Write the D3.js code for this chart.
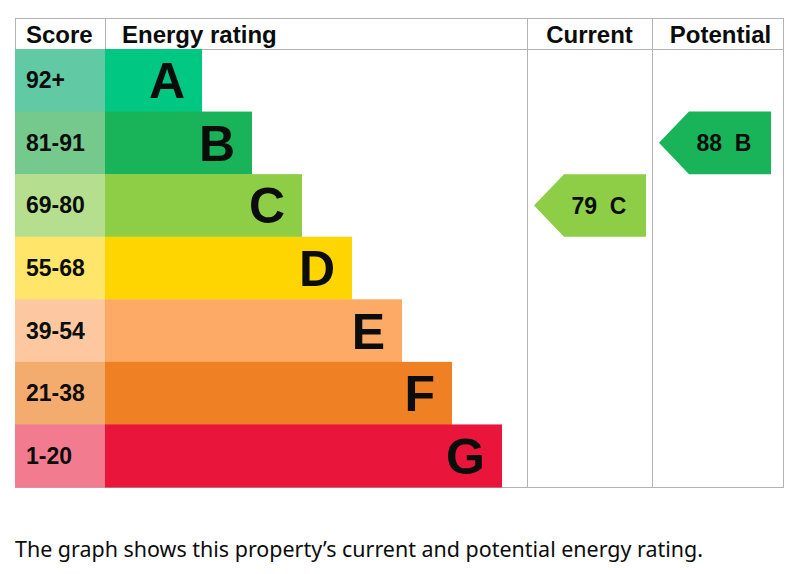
<!DOCTYPE html>
<html>
<head>
<meta charset="utf-8">
<script src="https://cdn.jsdelivr.net/npm/d3@7"></script>
<style>
  body { margin: 0; background: #fff; }
  svg { display: block; }
  text { fill: #0b0c0c; }
</style>
</head>
<body>
<div id="chart"></div>
<script>
// rating bands, top to bottom
var bands = ["A", "B", "C", "D", "E", "F", "G"];
var scoreLabels = ["92+", "81-91", "69-80", "55-68", "39-54", "21-38", "1-20"];
var bandMin = [92, 81, 69, 55, 39, 21, 1];
var bandColors = ["#00c781", "#19b459", "#8dce46", "#ffd500", "#fcaa65", "#ef8023", "#e9153b"];
var scoreColors = ["#62c9a5", "#75c98c", "#b5df8e", "#ffe56a", "#fdc8a0", "#f4ab6e", "#f27b90"];
var columnNames = ["Current", "Potential"];
var ratings = [79, 88];
var caption = "The graph shows this property\u2019s current and potential energy rating.";

var width = 804, height = 574;
var tLeft = 15, tRight = 783, tTop = 18, headBottom = 49, tBottom = 487;
var scoreRight = 105;
var colEdges = [527, 652, 783];
var lineColor = "#b1b4b6";

var svg = d3.select("#chart")
    .append("svg")
    .attr("width", width)
    .attr("height", height);

var y = d3.scaleBand()
    .domain(bands)
    .range([headBottom, tBottom]);

// bar end position grows by 50px per band
var barEnd = d3.scaleLinear()
    .domain([0, bands.length - 1])
    .range([202, 502]);

function bandOf(score) {
    for (var i = 0; i < bandMin.length; i++) {
        if (score >= bandMin[i]) return i;
    }
    return bandMin.length - 1;
}

//table lines
var grid = svg.append("g")
    .attr("stroke", lineColor)
    .attr("stroke-width", 1)
    .attr("shape-rendering", "crispEdges");

grid.append("rect")
    .attr("x", tLeft + 0.5)
    .attr("y", tTop + 0.5)
    .attr("width", tRight - tLeft)
    .attr("height", tBottom - tTop)
    .attr("fill", "none");

grid.append("line")
    .attr("x1", tLeft).attr("x2", tRight)
    .attr("y1", headBottom + 0.5).attr("y2", headBottom + 0.5);

grid.append("line")
    .attr("x1", scoreRight + 0.5).attr("x2", scoreRight + 0.5)
    .attr("y1", tTop).attr("y2", headBottom);

grid.selectAll(".col_line")
    .data(colEdges.slice(0, 2))
    .enter()
    .append("line")
    .attr("class", "col_line")
    .attr("x1", d => d + 0.5).attr("x2", d => d + 0.5)
    .attr("y1", tTop).attr("y2", tBottom);

//header
var head = svg.append("g")
    .style("font-family", "'Liberation Sans', Arial, sans-serif")
    .style("font-weight", "bold")
    .style("font-size", "24px");

head.append("text").attr("x", 26).attr("y", 43).text("Score");
head.append("text").attr("x", 122).attr("y", 43).text("Energy rating");

head.selectAll(".col_head")
    .data(columnNames)
    .enter()
    .append("text")
    .attr("class", "col_head")
    .attr("text-anchor", "middle")
    .attr("x", (d, i) => (colEdges[i] + colEdges[i + 1]) / 2 + i * 3)
    .attr("y", 43)
    .text(d => d);

//rows
var rows = svg.append("g")
    .selectAll("g")
    .data(bands)
    .enter()
    .append("g");

rows.append("rect")
    .attr("x", tLeft)
    .attr("y", d => y(d))
    .attr("width", scoreRight - tLeft)
    .attr("height", y.bandwidth() + 0.5)
    .attr("fill", (d, i) => scoreColors[i]);

rows.append("rect")
    .attr("x", scoreRight)
    .attr("y", d => y(d))
    .attr("width", (d, i) => barEnd(i) - scoreRight)
    .attr("height", y.bandwidth() + 0.5)
    .attr("fill", (d, i) => bandColors[i]);

rows.append("text")
    .attr("x", 26)
    .attr("y", d => y(d) + y.bandwidth() / 2 + 8)
    .style("font-family", "'Liberation Sans', Arial, sans-serif")
    .style("font-weight", "bold")
    .style("font-size", "23px")
    .text((d, i) => scoreLabels[i]);

rows.append("text")
    .attr("x", (d, i) => barEnd(i) - 17)
    .attr("y", d => y(d) + y.bandwidth() / 2 + 18)
    .attr("text-anchor", "end")
    .style("font-family", "'Liberation Sans', Arial, sans-serif")
    .style("font-weight", "bold")
    .style("font-size", "50px")
    .text(d => d);

//current / potential arrows
var arrowW = 112, tipW = 30;

var arrows = svg.append("g")
    .selectAll("g")
    .data(ratings)
    .enter()
    .append("g")
    .attr("transform", function (d, i) {
        return "translate(" + (colEdges[i] + 7) + "," + y(bands[bandOf(d)]) + ")";
    });

arrows.append("path")
    .attr("d", function () {
        var h = y.bandwidth();
        return "M0," + h / 2 + "L" + tipW + ",0L" + arrowW + ",0L" + arrowW + "," + h +
            "L" + tipW + "," + h + "Z";
    })
    .attr("fill", d => bandColors[bandOf(d)]);

arrows.append("text")
    .attr("x", arrowW * 0.58)
    .attr("y", y.bandwidth() / 2 + 8.5)
    .attr("text-anchor", "middle")
    .style("white-space", "pre")
    .style("font-family", "'Liberation Sans', Arial, sans-serif")
    .style("font-weight", "bold")
    .style("font-size", "23px")
    .text(d => d + "  " + bands[bandOf(d)]);

//caption
svg.append("text")
    .attr("x", 15)
    .attr("y", 557)
    .attr("textLength", 688)
    .attr("lengthAdjust", "spacingAndGlyphs")
    .style("font-family", "'Noto Sans', sans-serif")
    .style("font-size", "22px")
    .text(caption);
</script>
</body>
</html>
